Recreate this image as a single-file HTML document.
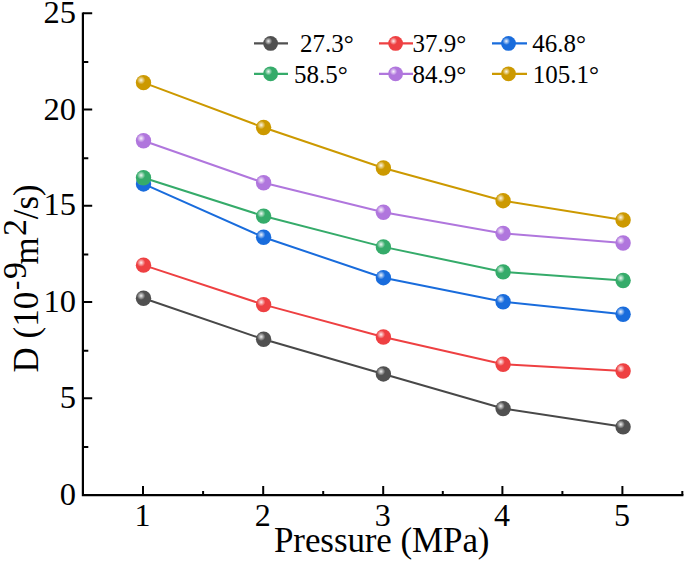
<!DOCTYPE html>
<html><head><meta charset="utf-8"><style>
html,body{margin:0;padding:0;background:#fff;}
svg{display:block;}
text{font-family:"Liberation Serif",serif;fill:#000;}
</style></head><body>
<svg width="685" height="562" viewBox="0 0 685 562">
<defs>






<radialGradient id="hl" cx="0.5" cy="0.5" r="0.5">
<stop offset="0" stop-color="#fff" stop-opacity="0.92"/>
<stop offset="0.35" stop-color="#fff" stop-opacity="0.6"/>
<stop offset="1" stop-color="#fff" stop-opacity="0"/></radialGradient>
</defs>
<rect width="685" height="562" fill="#fff"/>
<path d="M82.9 12.5 V495.2 H683.4" fill="none" stroke="#000" stroke-width="2.2"/>
<path d="M82.9 446.98h5.4 M82.9 398.35h9.3 M82.9 350.73h5.4 M82.9 302.10h9.3 M82.9 254.48h5.4 M82.9 205.85h9.3 M82.9 158.23h5.4 M82.9 109.60h9.3 M82.9 61.98h5.4 M82.9 13.35h9.3 M143.00 495.2v-9.3 M203.10 495.2v-4.1 M263.20 495.2v-9.3 M323.20 495.2v-4.1 M383.20 495.2v-9.3 M442.80 495.2v-4.1 M502.40 495.2v-9.3 M562.40 495.2v-4.1 M622.40 495.2v-9.3 M682.32 495.2v-4.1" fill="none" stroke="#000" stroke-width="2"/>
<text x="76" y="504.80" font-size="32.5" text-anchor="end">0</text>
<text x="76" y="407.55" font-size="32.5" text-anchor="end">5</text>
<text x="76" y="312.30" font-size="32.5" text-anchor="end">10</text>
<text x="76" y="215.05" font-size="32.5" text-anchor="end">15</text>
<text x="76" y="119.80" font-size="32.5" text-anchor="end">20</text>
<text x="76" y="22.55" font-size="32.5" text-anchor="end">25</text>
<text x="142.50" y="525.5" font-size="32" text-anchor="middle">1</text>
<text x="262.70" y="525.5" font-size="32" text-anchor="middle">2</text>
<text x="382.70" y="525.5" font-size="32" text-anchor="middle">3</text>
<text x="501.90" y="525.5" font-size="32" text-anchor="middle">4</text>
<text x="621.90" y="525.5" font-size="32" text-anchor="middle">5</text>
<text x="274" y="552" font-size="35" letter-spacing="-0.1">Pressure (MPa)</text>
<g transform="translate(37.5 0) rotate(-90)"><text font-size="35">
<tspan x="-372.5" y="0">D (10</tspan><tspan x="-290" y="-14" font-size="28">-</tspan><tspan x="-279" y="-11.5" font-size="34">9</tspan><tspan x="-264.5" y="0">m</tspan><tspan x="-236" y="-11.5" font-size="34">2</tspan><tspan x="-219.3" y="0">/s)</tspan></text></g>
<polyline points="143.50,298.27 263.60,339.28 383.40,373.93 503.10,408.58 623.10,426.86" fill="none" stroke="#484848" stroke-width="2.0" shape-rendering="auto"/>
<circle cx="143.50" cy="298.27" r="7.7" fill="#505050" shape-rendering="auto"/><circle cx="141.10" cy="295.77" r="4.2" fill="url(#hl)"/>
<circle cx="263.60" cy="339.28" r="7.7" fill="#505050" shape-rendering="auto"/><circle cx="261.20" cy="336.78" r="4.2" fill="url(#hl)"/>
<circle cx="383.40" cy="373.93" r="7.7" fill="#505050" shape-rendering="auto"/><circle cx="381.00" cy="371.43" r="4.2" fill="url(#hl)"/>
<circle cx="503.10" cy="408.58" r="7.7" fill="#505050" shape-rendering="auto"/><circle cx="500.70" cy="406.08" r="4.2" fill="url(#hl)"/>
<circle cx="623.10" cy="426.86" r="7.7" fill="#505050" shape-rendering="auto"/><circle cx="620.70" cy="424.36" r="4.2" fill="url(#hl)"/>
<polyline points="143.50,265.16 263.60,304.62 383.40,336.97 503.10,364.30 623.10,371.04" fill="none" stroke="#EE4042" stroke-width="2.0" shape-rendering="auto"/>
<circle cx="143.50" cy="265.16" r="7.7" fill="#EE4042" shape-rendering="auto"/><circle cx="141.10" cy="262.66" r="4.2" fill="url(#hl)"/>
<circle cx="263.60" cy="304.62" r="7.7" fill="#EE4042" shape-rendering="auto"/><circle cx="261.20" cy="302.12" r="4.2" fill="url(#hl)"/>
<circle cx="383.40" cy="336.97" r="7.7" fill="#EE4042" shape-rendering="auto"/><circle cx="381.00" cy="334.47" r="4.2" fill="url(#hl)"/>
<circle cx="503.10" cy="364.30" r="7.7" fill="#EE4042" shape-rendering="auto"/><circle cx="500.70" cy="361.80" r="4.2" fill="url(#hl)"/>
<circle cx="623.10" cy="371.04" r="7.7" fill="#EE4042" shape-rendering="auto"/><circle cx="620.70" cy="368.54" r="4.2" fill="url(#hl)"/>
<polyline points="143.50,183.93 263.60,237.25 383.40,277.68 503.10,301.74 623.10,314.25" fill="none" stroke="#196CDC" stroke-width="2.0" shape-rendering="auto"/>
<circle cx="143.50" cy="183.93" r="7.7" fill="#196CDC" shape-rendering="auto"/><circle cx="141.10" cy="181.43" r="4.2" fill="url(#hl)"/>
<circle cx="263.60" cy="237.25" r="7.7" fill="#196CDC" shape-rendering="auto"/><circle cx="261.20" cy="234.75" r="4.2" fill="url(#hl)"/>
<circle cx="383.40" cy="277.68" r="7.7" fill="#196CDC" shape-rendering="auto"/><circle cx="381.00" cy="275.18" r="4.2" fill="url(#hl)"/>
<circle cx="503.10" cy="301.74" r="7.7" fill="#196CDC" shape-rendering="auto"/><circle cx="500.70" cy="299.24" r="4.2" fill="url(#hl)"/>
<circle cx="623.10" cy="314.25" r="7.7" fill="#196CDC" shape-rendering="auto"/><circle cx="620.70" cy="311.75" r="4.2" fill="url(#hl)"/>
<polyline points="143.50,177.77 263.60,216.08 383.40,246.88 503.10,271.90 623.10,280.56" fill="none" stroke="#35AB6A" stroke-width="2.0" shape-rendering="auto"/>
<circle cx="143.50" cy="177.77" r="7.7" fill="#35AB6A" shape-rendering="auto"/><circle cx="141.10" cy="175.27" r="4.2" fill="url(#hl)"/>
<circle cx="263.60" cy="216.08" r="7.7" fill="#35AB6A" shape-rendering="auto"/><circle cx="261.20" cy="213.58" r="4.2" fill="url(#hl)"/>
<circle cx="383.40" cy="246.88" r="7.7" fill="#35AB6A" shape-rendering="auto"/><circle cx="381.00" cy="244.38" r="4.2" fill="url(#hl)"/>
<circle cx="503.10" cy="271.90" r="7.7" fill="#35AB6A" shape-rendering="auto"/><circle cx="500.70" cy="269.40" r="4.2" fill="url(#hl)"/>
<circle cx="623.10" cy="280.56" r="7.7" fill="#35AB6A" shape-rendering="auto"/><circle cx="620.70" cy="278.06" r="4.2" fill="url(#hl)"/>
<polyline points="143.50,140.81 263.60,182.77 383.40,212.23 503.10,233.40 623.10,243.03" fill="none" stroke="#B076DD" stroke-width="2.0" shape-rendering="auto"/>
<circle cx="143.50" cy="140.81" r="7.7" fill="#B076DD" shape-rendering="auto"/><circle cx="141.10" cy="138.31" r="4.2" fill="url(#hl)"/>
<circle cx="263.60" cy="182.77" r="7.7" fill="#B076DD" shape-rendering="auto"/><circle cx="261.20" cy="180.27" r="4.2" fill="url(#hl)"/>
<circle cx="383.40" cy="212.23" r="7.7" fill="#B076DD" shape-rendering="auto"/><circle cx="381.00" cy="209.73" r="4.2" fill="url(#hl)"/>
<circle cx="503.10" cy="233.40" r="7.7" fill="#B076DD" shape-rendering="auto"/><circle cx="500.70" cy="230.90" r="4.2" fill="url(#hl)"/>
<circle cx="623.10" cy="243.03" r="7.7" fill="#B076DD" shape-rendering="auto"/><circle cx="620.70" cy="240.53" r="4.2" fill="url(#hl)"/>
<polyline points="143.50,82.67 263.60,127.53 383.40,167.95 503.10,200.68 623.10,219.93" fill="none" stroke="#CC9900" stroke-width="2.0" shape-rendering="auto"/>
<circle cx="143.50" cy="82.67" r="7.7" fill="#CC9900" shape-rendering="auto"/><circle cx="141.10" cy="80.17" r="4.2" fill="url(#hl)"/>
<circle cx="263.60" cy="127.53" r="7.7" fill="#CC9900" shape-rendering="auto"/><circle cx="261.20" cy="125.03" r="4.2" fill="url(#hl)"/>
<circle cx="383.40" cy="167.95" r="7.7" fill="#CC9900" shape-rendering="auto"/><circle cx="381.00" cy="165.45" r="4.2" fill="url(#hl)"/>
<circle cx="503.10" cy="200.68" r="7.7" fill="#CC9900" shape-rendering="auto"/><circle cx="500.70" cy="198.18" r="4.2" fill="url(#hl)"/>
<circle cx="623.10" cy="219.93" r="7.7" fill="#CC9900" shape-rendering="auto"/><circle cx="620.70" cy="217.43" r="4.2" fill="url(#hl)"/>
<path d="M254 43.4H288" stroke="#505050" stroke-width="2.2"/>
<circle cx="270.6" cy="43.4" r="7.4" fill="#505050" shape-rendering="auto"/><circle cx="268.44" cy="41.15" r="3.78" fill="url(#hl)"/>
<text x="293.7" y="52" font-size="25" xml:space="preserve"> 27.3°</text>
<path d="M379 43.4H413" stroke="#EE4042" stroke-width="2.2"/>
<circle cx="395.6" cy="43.4" r="7.4" fill="#EE4042" shape-rendering="auto"/><circle cx="393.44" cy="41.15" r="3.78" fill="url(#hl)"/>
<text x="412.4" y="52" font-size="25" xml:space="preserve">37.9°</text>
<path d="M492 43.4H527" stroke="#196CDC" stroke-width="2.2"/>
<circle cx="508.5" cy="43.4" r="7.4" fill="#196CDC" shape-rendering="auto"/><circle cx="506.34" cy="41.15" r="3.78" fill="url(#hl)"/>
<text x="532.3" y="52" font-size="25" xml:space="preserve">46.8°</text>
<path d="M254 73.8H288" stroke="#35AB6A" stroke-width="2.2"/>
<circle cx="270.6" cy="73.8" r="7.4" fill="#35AB6A" shape-rendering="auto"/><circle cx="268.44" cy="71.55" r="3.78" fill="url(#hl)"/>
<text x="293.9" y="83" font-size="25" xml:space="preserve">58.5°</text>
<path d="M379 73.8H413" stroke="#B076DD" stroke-width="2.2"/>
<circle cx="395.6" cy="73.8" r="7.4" fill="#B076DD" shape-rendering="auto"/><circle cx="393.44" cy="71.55" r="3.78" fill="url(#hl)"/>
<text x="412.4" y="83" font-size="25" xml:space="preserve">84.9°</text>
<path d="M492 73.8H527" stroke="#CC9900" stroke-width="2.2"/>
<circle cx="508.5" cy="73.8" r="7.4" fill="#CC9900" shape-rendering="auto"/><circle cx="506.34" cy="71.55" r="3.78" fill="url(#hl)"/>
<text x="532.7" y="83" font-size="25" xml:space="preserve">105.1°</text>
</svg></body></html>
